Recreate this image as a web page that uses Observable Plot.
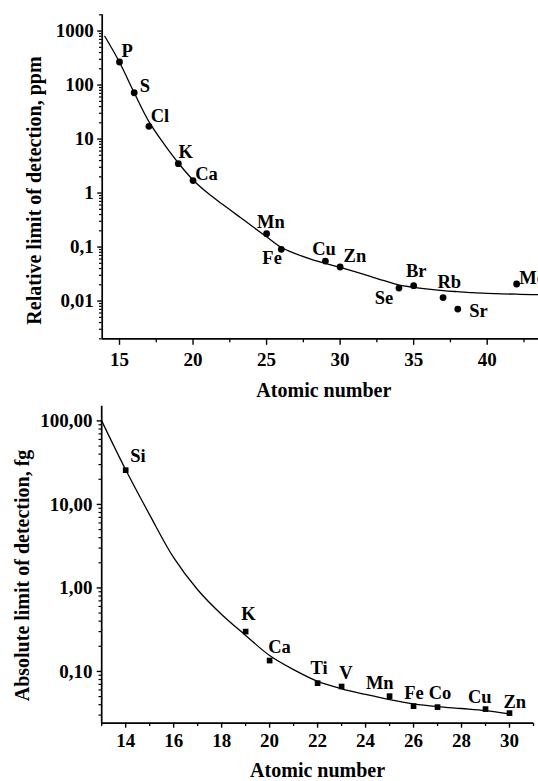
<!DOCTYPE html>
<html><head><meta charset="utf-8">
<script src="https://cdn.jsdelivr.net/npm/d3@7"></script>
<script src="https://cdn.jsdelivr.net/npm/@observablehq/plot@0.6"></script>
<style>
html,body{margin:0;padding:0;background:#fff;}
#chart{width:538px;overflow:hidden;}
#chart svg{display:block;}
#chart svg, #chart svg text{font-family:"Liberation Serif","Times New Roman",Times,serif !important;font-weight:bold !important;}
</style></head><body><div id="chart"></div>
<script>
// ---------- Top panel: relative limit of detection (ppm) ----------
const topElements = ["P","S","Cl","K","Ca","Mn","Fe","Cu","Zn","Se","Br","Rb","Sr","Mo"];
const topZ        = [15, 16, 17, 19, 20, 25, 26, 29, 30, 34, 35, 37, 38, 42];
const topLOD      = [267, 72, 17.2, 3.5, 1.7, 0.177, 0.0906, 0.0551, 0.0427, 0.0174, 0.0193, 0.0116, 0.0071, 0.0207];
const topFitZ     = [14,15,16,17,18,19,20,21,22,23,24,25,26,27,28,29,30,31,32,33,34,35,36,37,38,39,40,41,42,43,44];
const topFitLOD   = [800,265,72,21,8.3,3.6,1.75,1.0,0.62,0.39,0.245,0.155,0.098,0.075,0.06,0.05,0.042,0.035,0.029,0.0238,0.0198,0.018,0.0166,0.0156,0.0149,0.0143,0.0139,0.0136,0.0134,0.0132,0.0131];
const topXTicks   = [15, 20, 25, 30, 35, 40];
const topXTickLabels = ["15","20","25","30","35","40"];
const topYTicks   = [1000, 100, 10, 1, 0.1, 0.01];
const topYTickLabels = ["1000","100","10","1","0,1","0,01"];
const topXTitle   = "Atomic number";
const topYTitle   = "Relative limit of detection, ppm";

// ---------- Bottom panel: absolute limit of detection (fg) ----------
const botElements = ["Si","K","Ca","Ti","V","Mn","Fe","Co","Cu","Zn"];
const botZ        = [14, 19, 20, 22, 23, 25, 26, 27, 29, 30];
const botLOD      = [25.7, 0.30, 0.135, 0.0724, 0.066, 0.0506, 0.0384, 0.0374, 0.0354, 0.0317];
const botFitZ     = [13,14,15,16,17,18,19,20,21,22,23,24,25,26,27,28,29,30];
const botFitLOD   = [100,26,7.5,2.3,0.95,0.48,0.27,0.155,0.105,0.076,0.062,0.053,0.046,0.041,0.038,0.036,0.034,0.031];
const botXTicks   = [14,16,18,20,22,24,26,28,30];
const botXTickLabels = ["14","16","18","20","22","24","26","28","30"];
const botYTicks   = [100, 10, 1, 0.1];
const botYTickLabels = ["100,00","10,00","1,00","0,10"];
const botXTitle   = "Atomic number";
const botYTitle   = "Absolute limit of detection, fg";

// ---------- layout (label offsets in px, not data) ----------
const topLabelDx = [7.7, 10.6, 11, 7.3, 13.5, 4.4, -9.2, -1.4, 14.8, -15, 2.5, 6.2, 20.6, 16];
const topLabelDy = [-11, -6.5, -10, -11.6, -7, -12, 9, -12, -11, 10, -14.6, -15.5, 1.6, -6];
const botLabelDx = [12.2, 2.9, 9.9, 1.4, 4.3, -9.8, 0.5, 2.5, -5.7, 5.2];
const botLabelDy = [-14.2, -17.7, -13.7, -15.2, -13.7, -12.7, -13.2, -13.7, -12, -11];

const FONT = "Liberation Serif";

const topPoints = topElements.map((el, i) => ({el, z: topZ[i], v: topLOD[i]}));
const topFit = topFitZ.map((z, i) => ({z, v: topFitLOD[i]}));
const botPoints = botElements.map((el, i) => ({el, z: botZ[i], v: botLOD[i]}));
const botFit = botFitZ.map((z, i) => ({z, v: botFitLOD[i]}));

function logMinor(domain) {
  const out = [];
  for (let e = Math.floor(Math.log10(domain[0])); e <= Math.ceil(Math.log10(domain[1])); e++) {
    for (let k = 2; k <= 9; k++) {
      const v = k * Math.pow(10, e);
      if (v >= domain[0] * 0.999 && v <= domain[1] * 1.001) out.push(v);
    }
  }
  return out;
}
function linMinor(domain, start, step) {
  const out = [];
  for (let v = start; v <= domain[1] + 1e-9; v += step) if (v >= domain[0] - 1e-9) out.push(v);
  return out;
}
const svgStyle = {fontFamily: FONT, fontWeight: "bold", fontSize: "19px", color: "black", background: "white", overflow: "hidden"};
const txt = {fontFamily: FONT, fontWeight: "bold"};

// ----- top chart -----
const topXDomain = [13.824, 43.488];
const topYDomain = [0.002, 2000];
const topChart = Plot.plot({
  width: 538, height: 400,
  marginTop: 14.3, marginBottom: 61.7, marginLeft: 101.7, marginRight: 0,
  style: svgStyle,
  x: {domain: topXDomain},
  y: {type: "log", domain: topYDomain},
  marks: [
    Plot.axisY(logMinor(topYDomain), {tickSize: 2.7, tickFormat: () => "", strokeWidth: 1.2, label: null}),
    Plot.axisY(topYTicks, {...txt, fontSize: 19, tickSize: 4.5, tickPadding: 3.9, tickFormat: d => topYTickLabels[topYTicks.indexOf(d)], strokeWidth: 1.4, label: null}),
    Plot.axisX(linMinor(topXDomain, 17.5, 5), {tickSize: 4, tickFormat: () => "", strokeWidth: 1.3, label: null}),
    Plot.axisX(topXTicks, {...txt, fontSize: 19, tickSize: 6.5, tickPadding: 6.9, tickFormat: d => topXTickLabels[topXTicks.indexOf(d)], strokeWidth: 1.4, label: null}),
    Plot.ruleX([topXDomain[0]], {strokeWidth: 1.7}),
    Plot.ruleY([topYDomain[0]], {strokeWidth: 1.7}),
    Plot.line(topFit, {x: "z", y: "v", curve: "catmull-rom", strokeWidth: 1.3, stroke: "black", clip: true}),
    Plot.dot(topPoints, {x: "z", y: "v", r: 3.4, fill: "black"}),
    ...topPoints.map((p, i) => Plot.text([p], {...txt, x: "z", y: "v", text: "el", dx: topLabelDx[i], dy: topLabelDy[i], fontSize: 18.5, textAnchor: "middle", lineAnchor: "middle"})),
    Plot.text([topXTitle], {...txt, text: d => d, frameAnchor: "bottom", dx: 3.5, dy: 51.5, fontSize: 20, textAnchor: "middle", lineAnchor: "middle"}),
    Plot.text([topYTitle], {...txt, text: d => d, frameAnchor: "left", rotate: -90, dx: -68, dy: 13.7, fontSize: 20, textAnchor: "middle", lineAnchor: "middle"})
  ]
});

// ----- bottom chart -----
const botXDomain = [13, 31];
const botYDomain = [0.024, 150];
const botChart = Plot.plot({
  width: 538, height: 381,
  marginTop: 5.7, marginBottom: 58.3, marginLeft: 101.2, marginRight: 5,
  style: svgStyle,
  x: {domain: botXDomain},
  y: {type: "log", domain: botYDomain},
  marks: [
    Plot.axisY(logMinor(botYDomain), {tickSize: 2.7, tickFormat: () => "", strokeWidth: 1.2, label: null}),
    Plot.axisY(botYTicks, {...txt, fontSize: 19, tickSize: 4.5, tickPadding: 4.8, tickFormat: d => botYTickLabels[botYTicks.indexOf(d)], strokeWidth: 1.4, label: null}),
    Plot.axisX(linMinor(botXDomain, 13, 2), {tickSize: 3.3, tickFormat: () => "", strokeWidth: 1.3, label: null}),
    Plot.axisX(botXTicks, {...txt, fontSize: 19, tickSize: 5, tickPadding: 5.7, tickFormat: d => botXTickLabels[botXTicks.indexOf(d)], strokeWidth: 1.4, label: null}),
    Plot.ruleX([botXDomain[0]], {strokeWidth: 1.7}),
    Plot.ruleY([botYDomain[0]], {strokeWidth: 1.7}),
    Plot.line(botFit, {x: "z", y: "v", curve: "catmull-rom", strokeWidth: 1.3, stroke: "black", clip: true}),
    Plot.dot(botPoints, {x: "z", y: "v", r: 3.2, symbol: "square", fill: "black"}),
    ...botPoints.map((p, i) => Plot.text([p], {...txt, x: "z", y: "v", text: "el", dx: botLabelDx[i], dy: botLabelDy[i], fontSize: 18.5, textAnchor: "middle", lineAnchor: "middle"})),
    Plot.text([botXTitle], {...txt, text: d => d, frameAnchor: "bottom", dx: 0, dy: 47, fontSize: 20, textAnchor: "middle", lineAnchor: "middle"}),
    Plot.text([botYTitle], {...txt, text: d => d, frameAnchor: "left", rotate: -90, dx: -79, dy: 10.8, fontSize: 20, textAnchor: "middle", lineAnchor: "middle"})
  ]
});

document.getElementById("chart").append(topChart, botChart);
</script>
</body></html>
